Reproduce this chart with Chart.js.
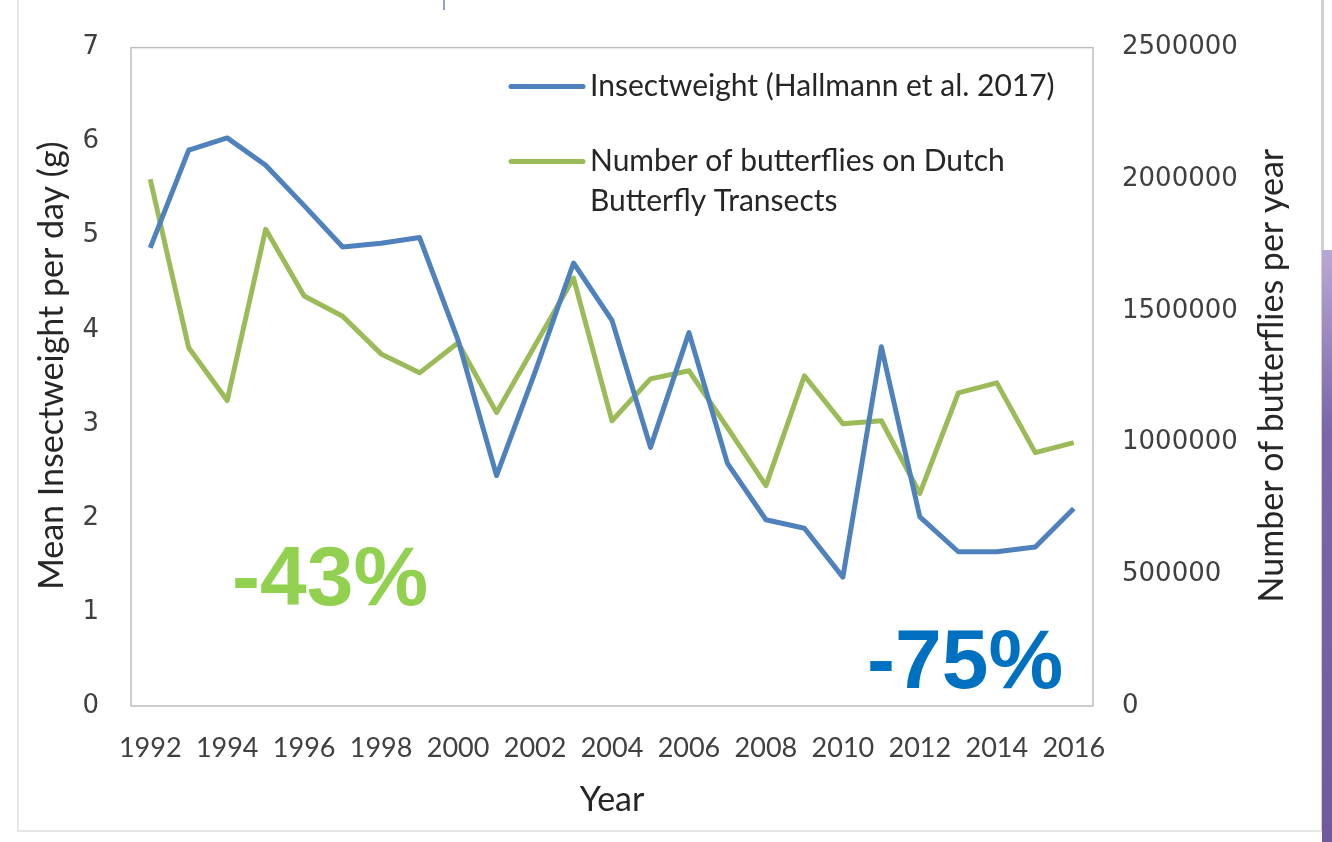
<!DOCTYPE html>
<html>

<head>
    <style>
        html, body {
            margin: 0;
            padding: 0;
            background: #ffffff;
        }

        .wrap {
            position: relative;
            width: 1332px;
            height: 842px;
            overflow: hidden;
        }

        /* slide frame around the chart */
        .frame {
            position: absolute;
            left: 17px;
            top: -2px;
            width: 1302px;
            height: 832px;
            border-left: 2px solid #e6e6e6;
            border-bottom: 2px solid #e6e6e6;
            border-right: 3px solid #d0d0d0;
        }

        .purple {
            position: absolute;
            left: 1322px;
            top: 250px;
            width: 12px;
            height: 600px;
            background: linear-gradient(#b9a8d6, #7a66a8 30%, #6f5b9c);
        }

        .tick {
            position: absolute;
            left: 443px;
            top: 0;
            width: 2px;
            height: 10px;
            background: #9aa0c8;
        }

        canvas {
            position: absolute;
            left: 0;
            top: 0;
        }
    </style>
    <script src="https://cdn.jsdelivr.net/npm/chart.js"></script>
</head>

<body>
    <div class="wrap">
        <div class="frame"></div>
        <div class="purple"></div>
        <div class="tick"></div>
        <canvas id="myChart" width="1332" height="842"></canvas>
    </div>

    <script>
        const years = ['1992', '1993', '1994', '1995', '1996', '1997', '1998', '1999', '2000', '2001', '2002', '2003', '2004',
            '2005', '2006', '2007', '2008', '2009', '2010', '2011', '2012', '2013', '2014', '2015', '2016'];

        // Mean insect weight per day (g), left axis
        const insectWeight = [4.87, 5.91, 6.04, 5.75, 5.32, 4.88, 4.92, 4.98, 3.89, 2.45, 3.55, 4.71, 4.10,
            2.75, 3.97, 2.58, 1.98, 1.89, 1.37, 3.82, 2.01, 1.64, 1.64, 1.69, 2.10];

        // Number of butterflies per year, right axis
        const butterflies = [2000000, 1360000, 1160000, 1810000, 1557000, 1480000, 1337000, 1265000, 1379000, 1114000,
            1370000, 1625000, 1083000, 1242000, 1273000, 1057000, 837000, 1254000, 1072000, 1083000, 807000,
            1189000, 1227000, 962000, 1000000];

        const leftTicks = [0, 1, 2, 3, 4, 5, 6, 7];
        const rightTicks = [0, 500000, 1000000, 1500000, 2000000, 2500000];

        const leftTitle = 'Mean Insectweight per day (g)';
        const rightTitle = 'Number of butterflies per year';
        const legendLabels = [
            ['Insectweight (Hallmann et al. 2017)'],
            ['Number of butterflies on Dutch', 'Butterfly Transects']
        ];
        const changeLabels = ['-43%', '-75%'];

        const blue = '#4f81bd';
        const green = '#9bbb59';

        // frame round the plot area, y titles, legend and percentage labels
        const extras = {
            id: 'extras',
            afterDraw(chart) {
                const ctx = chart.ctx;
                const a = chart.chartArea;
                ctx.save();
                ctx.strokeStyle = '#bfbfbf';
                ctx.lineWidth = 1.5;
                ctx.strokeRect(a.left, a.top, a.right - a.left, a.bottom - a.top);

                // both y titles read bottom to top
                ctx.fillStyle = '#262626';
                ctx.font = '34px Lato';
                ctx.textAlign = 'center';
                ctx.textBaseline = 'middle';
                ctx.save();
                ctx.translate(52, a.top + 318);
                ctx.rotate(-Math.PI / 2);
                ctx.fillText(leftTitle, 0, 0);
                ctx.restore();
                ctx.save();
                ctx.translate(1272, a.top + 328);
                ctx.rotate(-Math.PI / 2);
                ctx.fillText(rightTitle, 0, 0);
                ctx.restore();

                // legend
                ctx.textAlign = 'left';
                const lx = a.left + 380;
                const rows = [a.top + 39, a.top + 114];
                const colors = [blue, green];
                ctx.lineCap = 'round';
                ctx.font = '30px Lato';
                legendLabels.forEach((lines, i) => {
                    ctx.strokeStyle = colors[i];
                    ctx.lineWidth = 5;
                    ctx.beginPath();
                    ctx.moveTo(lx, rows[i]);
                    ctx.lineTo(lx + 72, rows[i]);
                    ctx.stroke();
                    lines.forEach((t, j) => {
                        ctx.fillText(t, lx + 79, rows[i] + j * 40);
                    });
                });

                // percentage labels
                ctx.font = 'bold 84px "Liberation Sans"';
                ctx.textBaseline = 'alphabetic';
                ctx.fillStyle = '#92d050';
                ctx.fillText(changeLabels[0], a.left + 101, a.top + 557);
                ctx.fillStyle = '#0070c0';
                ctx.fillText(changeLabels[1], a.left + 736, a.top + 640);
                ctx.restore();
            }
        };

        const config = {
            type: 'line',
            data: {
                labels: years,
                datasets: [{
                    label: legendLabels[0][0],
                    data: insectWeight,
                    borderColor: blue,
                    borderWidth: 5,
                    pointRadius: 0,
                    tension: 0,
                    borderJoinStyle: 'round',
                    yAxisID: 'y'
                }, {
                    label: legendLabels[1].join(' '),
                    data: butterflies,
                    borderColor: green,
                    borderWidth: 5,
                    pointRadius: 0,
                    tension: 0,
                    borderJoinStyle: 'round',
                    yAxisID: 'y2'
                }]
            },
            options: {
                responsive: false,
                animation: false,
                layout: { padding: { top: 46, left: 0, right: 0, bottom: 0 } },
                plugins: {
                    legend: { display: false },
                    tooltip: { enabled: false }
                },
                scales: {
                    x: {
                        offset: true,
                        grid: { display: false, drawTicks: false },
                        border: { display: false },
                        ticks: {
                            autoSkip: false,
                            maxRotation: 0,
                            padding: 26,
                            color: '#404040',
                            font: { family: 'Lato', size: 27 },
                            callback: function (v, i) {
                                return i % 2 === 0 ? years[i] : '';
                            }
                        },
                        title: {
                            display: true,
                            text: 'Year',
                            color: '#262626',
                            font: { family: 'Lato', size: 34 },
                            padding: { top: 0, bottom: 22 }
                        },
                        afterFit: function (s) { s.height = 136; }
                    },
                    y: {
                        position: 'left',
                        min: 0,
                        max: 7,
                        afterBuildTicks: function (s) { s.ticks = leftTicks.map(v => ({ value: v })); },
                        grid: { display: false, drawTicks: false },
                        border: { display: false },
                        ticks: {
                            padding: 32,
                            color: '#404040',
                            font: { family: 'DejaVu Sans', size: 26 },
                            callback: v => String(v)
                        },
                        afterFit: function (s) { s.width = 131; }
                    },
                    y2: {
                        position: 'right',
                        min: 0,
                        max: 2500000,
                        afterBuildTicks: function (s) { s.ticks = rightTicks.map(v => ({ value: v })); },
                        grid: { display: false, drawTicks: false },
                        border: { display: false },
                        ticks: {
                            padding: 29,
                            color: '#404040',
                            font: { family: 'DejaVu Sans', size: 26 },
                            callback: v => String(v)
                        },
                        afterFit: function (s) { s.width = 239; }
                    }
                }
            },
            plugins: [extras]
        };

        new Chart(document.getElementById('myChart'), config);
    </script>
</body>

</html>
